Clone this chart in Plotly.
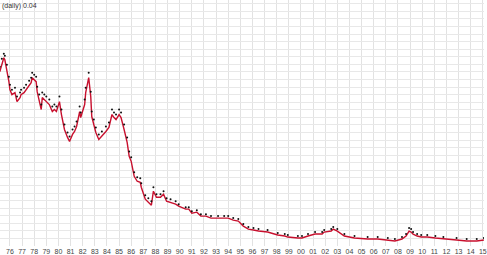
import plotly.graph_objects as go

dates = ["1975-03","1975-05","1975-07","1975-08","1975-10","1975-12","1976-01","1976-03","1976-06","1976-08",
         "1976-11","1976-12","1977-03","1977-05","1977-08","1977-10","1977-11","1978-01","1978-03","1978-04",
         "1978-06","1978-08","1978-09","1978-11","1979-01","1979-04","1979-07","1979-09","1979-11","1980-02",
         "1980-04","1980-07","1980-10","1980-12","1981-03","1981-05","1981-07","1981-10","1981-11","1982-03",
         "1982-04","1982-07","1982-09","1982-10","1982-12","1983-02","1983-05","1983-08","1983-12","1984-03",
         "1984-06","1984-08","1984-10","1985-01","1985-03","1985-06","1985-09","1985-11","1986-01","1986-04",
         "1986-07","1986-10","1986-11","1987-03","1987-06","1987-09","1987-11","1988-02","1988-06","1988-09",
         "1988-12","1989-04","1989-09","1989-12","1990-07","1990-10","1991-01","1991-06","1991-10","1992-03",
         "1992-08","1993-03","1993-09","1994-01","1994-06","1994-11","1995-04","1995-09","1996-02","1996-07",
         "1997-04","1998-02","1998-09","1998-12","1999-10","2000-02","2000-08","2001-03","2001-10","2001-12",
         "2002-07","2002-09","2003-01","2003-08","2004-06","2005-07","2006-05","2007-03","2007-10","2008-05",
         "2008-09","2008-12","2009-02","2009-04","2009-08","2009-12","2010-06","2011-02","2011-10","2012-11",
         "2013-09","2014-07","2015-02"]

close = [175,183,189,187,177,165,157,152,154,145,
         149,152,154,157,161,164,169,167,165,155,
         147,137,149,147,145,142,135,137,135,145,
         132,117,109,105,112,115,120,135,129,142,
         154,169,150,130,122,114,107,110,115,119,
         132,129,127,132,129,117,104,90,85,70,
         65,64,59,47,44,41,55,49,49,52,
         45,44,42,40,37,37,33,34,30,30,
         28,28,28,28,26,25,20,17,16,15,
         14,11,10,9,8,8,10,12,12,14,
         15,17,15,10,8,7,7,6,5,7,
         10,15,14,12,10,9,9,8,7,6,
         5,5,6]

high = [180,188,193,191,182,170,162,157,159,150,
        154,157,159,162,166,169,174,172,170,160,
        152,142,154,152,150,147,140,142,140,150,
        137,122,114,110,117,120,125,140,134,147,
        159,174,155,135,127,119,112,115,120,124,
        137,134,132,137,134,122,109,95,89,74,
        69,68,63,51,48,45,59,52,52,55,
        48,47,45,42,39,39,35,36,32,32,
        30,30,30,30,28,27,22,19,18,17,
        16,13,12,11,10,10,12,14,14,16,
        17,19,17,12,10,9,9,8,7,9,
        12,18,17,14,12,11,11,10,9,8,
        7,7,8]

fig = go.Figure()
fig.add_trace(go.Scatter(x=dates, y=close, mode="lines",
                         line=dict(color="#c8102e", width=1.4), hoverinfo="skip"))
fig.add_trace(go.Scatter(x=dates, y=high, mode="markers",
                         marker=dict(color="#111111", size=2), hoverinfo="skip"))

fig.update_layout(
    width=487, height=255,
    margin=dict(l=0, r=0, t=0, b=8),
    paper_bgcolor="white", plot_bgcolor="white",
    showlegend=False,
    font=dict(family="Liberation Sans, Arial", size=7, color="#444444"),
    xaxis=dict(type="date", range=["1975-03-08", "2015-02-05"],
               dtick="M12", tick0="1976-01-01", tickformat="%y",
               showgrid=True, gridcolor="#e2e2e2", gridwidth=1,
               zeroline=False, showline=False, ticks="",
               ticklabeloverflow="allow",
               tickfont=dict(size=7, color="#444444")),
    yaxis=dict(range=[0, 247], dtick=7.6, tick0=0,
               showgrid=True, gridcolor="#e8e8e8", gridwidth=1,
               zeroline=False, showticklabels=False, ticks=""),
    annotations=[dict(text="(daily) 0.04", xref="paper", yref="paper",
                      x=0, y=1, xanchor="left", yanchor="top",
                      showarrow=False, font=dict(size=7, color="#333333"))],
)

fig.write_html("out.html")
